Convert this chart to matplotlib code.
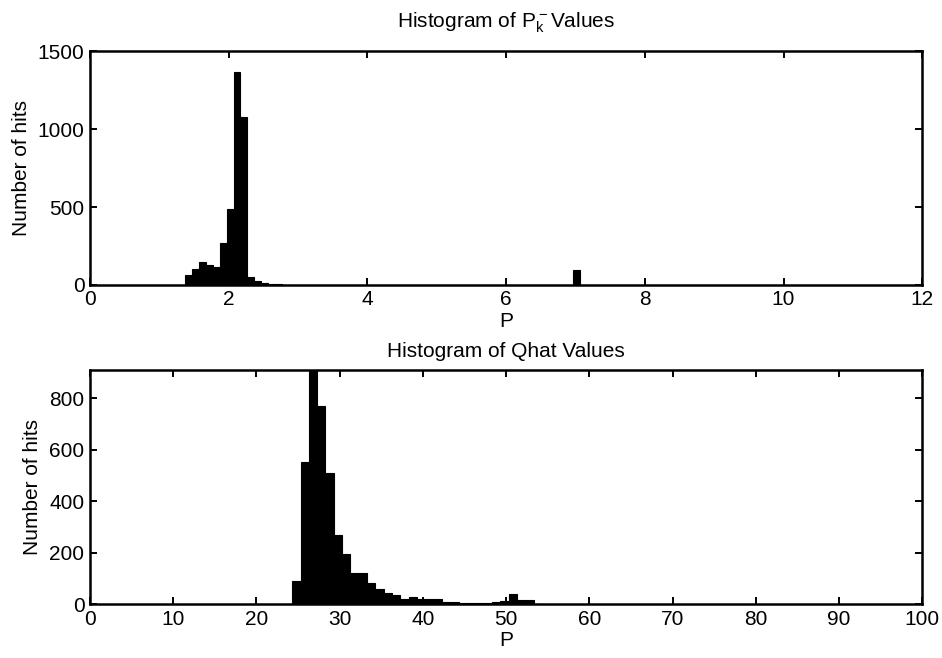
import numpy as np
import matplotlib
matplotlib.use("Agg")
import matplotlib.pyplot as plt

plt.rcParams['font.family'] = ['Liberation Sans', 'DejaVu Sans']
plt.rcParams['mathtext.default'] = 'regular'

# P_k^- histogram: bin left edges and counts
p_edges = [1.37, 1.47, 1.57, 1.67, 1.77, 1.87, 1.97, 2.07, 2.17, 2.27,
           2.37, 2.47, 2.57, 2.67, 2.77, 6.97]
p_counts = [64, 105, 150, 125, 118, 270, 487, 1365, 1080, 50,
            22, 15, 9, 5, 2, 95]
p_width = 0.1

# Qhat histogram: bin left edges and counts
q_edges = [24.3, 25.3, 26.3, 27.3, 28.3, 29.3, 30.3, 31.3, 32.3, 33.3,
           34.3, 35.3, 36.3, 37.3, 38.3, 39.3, 40.3, 41.3, 42.3, 43.3,
           44.3, 45.3, 46.3, 47.3, 48.3, 49.3, 50.3, 51.3, 52.3, 53.3]
q_counts = [90, 550, 910, 770, 510, 268, 194, 122, 120, 80,
            57, 41, 34, 21, 28, 21, 21, 21, 8, 6,
            4, 3, 3, 3, 6, 12, 38, 16, 16, 2]
q_width = 1.0

FS = 15

fig = plt.figure(figsize=(9.42, 6.58), dpi=100)
ax1 = fig.add_axes([0.0955, 0.567, 0.8835, 0.355])
ax2 = fig.add_axes([0.0955, 0.082, 0.8835, 0.356])


def style(ax):
    ax.tick_params(direction='in', top=True, right=True, length=5,
                   width=1.4, labelsize=FS, pad=4)
    for s in ax.spines.values():
        s.set_linewidth(1.8)


ax1.bar(p_edges, p_counts, width=p_width, align='edge', color='black',
        edgecolor='black', linewidth=0.8)
ax1.set_xlim(0, 12)
ax1.set_ylim(0, 1500)
ax1.set_xticks(np.arange(0, 13, 2))
ax1.set_yticks([0, 500, 1000, 1500])
ax1.set_xlabel('P', fontsize=FS, labelpad=2)
ax1.set_ylabel('Number of hits', fontsize=FS, labelpad=5)
ax1.set_title(r'Histogram of $P_k^-$Values', fontsize=FS, pad=17)
style(ax1)

ax2.bar(q_edges, q_counts, width=q_width, align='edge', color='black',
        edgecolor='black', linewidth=0.8)
ax2.set_xlim(0, 100)
ax2.set_ylim(0, 910)
ax2.set_xticks(np.arange(0, 101, 10))
ax2.set_yticks([0, 200, 400, 600, 800])
ax2.set_xlabel('P', fontsize=FS, labelpad=2)
ax2.set_ylabel('Number of hits', fontsize=FS, labelpad=5)
ax2.set_title('Histogram of Qhat Values', fontsize=FS, pad=9)
style(ax2)

fig.savefig('out.png', dpi=100)
